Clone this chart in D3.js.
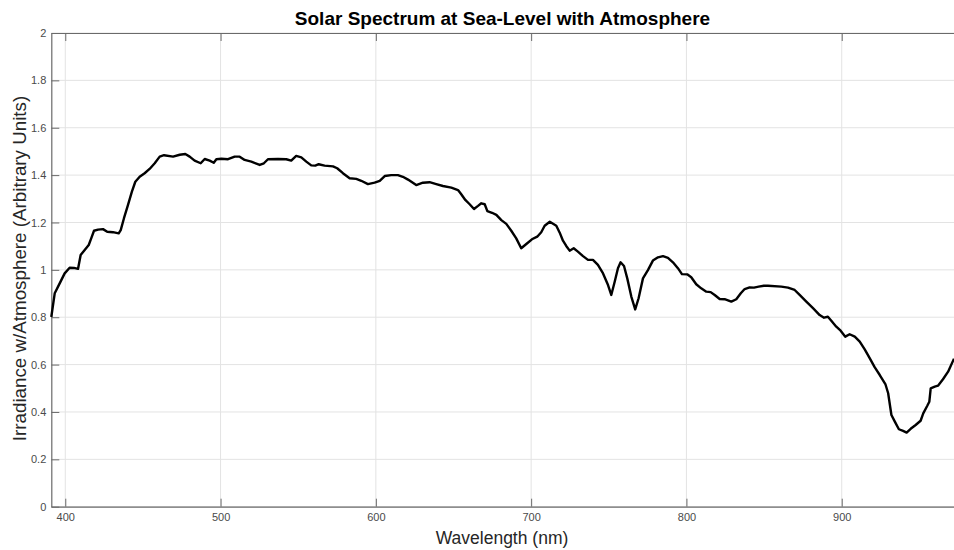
<!DOCTYPE html>
<html>
<head>
<meta charset="utf-8">
<script src="https://cdn.jsdelivr.net/npm/d3@7"></script>
<style>
  body { margin: 0; background: #fff; }
  svg { display: block; font-family: Arial, "Liberation Sans", Helvetica, sans-serif; }
</style>
</head>
<body>
<svg id="chart" width="954" height="550"></svg>
<script>
const wavelength = [391, 393.2, 396.4, 399.6, 402.8, 405.6, 408.2, 409.9, 412.5, 415.1, 416.7, 418.5, 421.1, 424.3, 427, 430.7, 434.4, 435.7, 437.8, 440.4, 442.9, 445.1, 447.9, 451.1, 454.3, 457.6, 460.8, 463.6, 469.4, 473.7, 477.3, 480.1, 483.3, 487.2, 489.8, 493, 495.6, 497.3, 500.5, 504.8,
  509.1, 512.3, 515.5, 519.8, 525.2, 527.9, 530.5, 537, 542.3, 545.5, 548.7, 552, 555.2, 558.4, 561, 563.2, 567, 572.4, 575.1, 578.8, 583.1, 587.4, 590.6, 594.9, 599.2, 602.5, 605.7, 609.9, 614.2, 617.4, 620.7,
  626, 630.3, 634.6, 638.9, 643.2, 648.6, 652.9, 655, 657.6, 660.4, 663.2, 665.8, 667.9, 670.1, 671.8, 674.8, 677.6, 680.8, 684, 687.2, 690.4, 693.6, 696.9, 700.5, 703.9, 706.5, 708.7, 712, 716.2, 718.4, 720.5, 722.6, 724.8, 727.4, 730.1, 733.4, 736.6,
  739.8, 743, 746.3, 749.5, 751.6, 753.8, 755.9, 757.6, 759.8, 761.9, 764.5, 767, 769.2, 772, 775.2, 778.4, 781.7, 784.9, 788.1, 791.3, 794.5, 797.1, 800.5, 803.1, 806.3, 809.5, 812.8, 815.6, 818.2, 821.4, 824.6, 828.9, 832.1, 835, 837.5, 840.7, 843.5, 846.5, 849.9, 852.5,
  861.1, 865.4, 869.7, 872.9, 877.2, 881.5, 885.8, 888.6, 891.1, 893.3, 896.5, 899.3, 902.3, 905.1, 908.4, 911.6, 914.8, 918, 921.2, 924.5, 928.1, 929.9, 932, 934.2, 936.8, 939.5, 941.8, 944.4, 947.6, 950.8, 952.5, 955.1, 956.4, 957.3, 959.9, 962, 965.2, 968.5, 972.3];

const irradiance = [0.801, 0.901, 0.943, 0.985, 1.009, 1.008, 1.004, 1.063, 1.084, 1.105, 1.133, 1.165, 1.170, 1.172, 1.161, 1.159, 1.154, 1.168, 1.218, 1.274, 1.330, 1.372, 1.393, 1.408, 1.426, 1.450, 1.478, 1.484, 1.478, 1.486, 1.489, 1.478, 1.461, 1.450, 1.468, 1.461, 1.452, 1.467, 1.469, 1.467,
  1.478, 1.478, 1.464, 1.457, 1.443, 1.450, 1.467, 1.468, 1.467, 1.461, 1.481, 1.475, 1.457, 1.441, 1.440, 1.446, 1.440, 1.437, 1.429, 1.408, 1.387, 1.384, 1.376, 1.362, 1.368, 1.376, 1.396, 1.400, 1.400, 1.393, 1.381,
  1.358, 1.368, 1.370, 1.362, 1.354, 1.347, 1.337, 1.319, 1.295, 1.277, 1.257, 1.270, 1.281, 1.277, 1.248, 1.241, 1.232, 1.210, 1.194, 1.165, 1.133, 1.091, 1.109, 1.129, 1.140, 1.159, 1.186, 1.203, 1.186, 1.157, 1.123, 1.101, 1.081, 1.091, 1.077, 1.058, 1.042,
  1.042, 1.021, 0.985, 0.936, 0.894, 0.950, 1.007, 1.032, 1.016, 0.964, 0.887, 0.833, 0.880, 0.964, 0.999, 1.039, 1.053, 1.058, 1.051, 1.032, 1.007, 0.982, 0.981, 0.969, 0.939, 0.922, 0.908, 0.906, 0.894, 0.877, 0.876, 0.866, 0.876, 0.901, 0.919, 0.926, 0.925, 0.929, 0.933, 0.933,
  0.929, 0.925, 0.915, 0.894, 0.866, 0.838, 0.809, 0.798, 0.802, 0.785, 0.760, 0.743, 0.718, 0.728, 0.718, 0.697, 0.664, 0.627, 0.589, 0.556, 0.518, 0.479, 0.387, 0.359, 0.327, 0.320, 0.313, 0.329, 0.345, 0.363, 0.394, 0.426, 0.443, 0.500, 0.507, 0.511, 0.538, 0.570, 0.625];

const xTicks = [400, 500, 600, 700, 800, 900];
const yTicks = [0, 0.2, 0.4, 0.6, 0.8, 1, 1.2, 1.4, 1.6, 1.8, 2];

const titleText = 'Solar Spectrum at Sea-Level with Atmosphere';
const xLabel = 'Wavelength (nm)';
const yLabel = 'Irradiance w/Atmosphere (Arbitrary Units)';

const plotLeft = 51.3, plotRight = 954, plotTop = 33, plotBottom = 506.7;
const svg = d3.select('#chart');

const x = d3.scaleLinear().domain([391, 972.3]).range([plotLeft, plotRight]);
const y = d3.scaleLinear().domain([0, 2]).range([plotBottom, plotTop]);

// grid
const grid = svg.append('g');
grid.selectAll('.vg').data(xTicks).enter().append('line')
    .attr('x1', d => x(d)).attr('x2', d => x(d))
    .attr('y1', plotTop).attr('y2', plotBottom)
    .attr('stroke', '#e3e3e3').attr('stroke-width', 1);
grid.selectAll('.hg').data(yTicks).enter().append('line')
    .attr('x1', plotLeft).attr('x2', plotRight)
    .attr('y1', d => y(d)).attr('y2', d => y(d))
    .attr('stroke', '#e3e3e3').attr('stroke-width', 1);

// axes (MATLAB style, inward ticks)
const axisColor = '#6a6a6a';
const xAxis = svg.append('g')
    .attr('transform', `translate(0,${plotBottom})`)
    .call(d3.axisBottom(x).tickValues(xTicks).tickSizeInner(-8).tickSizeOuter(0).tickPadding(7).tickFormat(d3.format('d')));
const xTop = svg.append('g')
    .attr('transform', `translate(0,${plotTop})`)
    .call(d3.axisTop(x).tickValues(xTicks).tickSizeInner(-8).tickSizeOuter(0).tickFormat(''));
const yAxis = svg.append('g')
    .attr('transform', `translate(${plotLeft},0)`)
    .call(d3.axisLeft(y).tickValues(yTicks).tickSizeInner(-8).tickSizeOuter(0).tickPadding(5).tickFormat(d => d3.format('~g')(d)));

[xAxis, xTop, yAxis].forEach(a => {
    a.select('.domain').attr('stroke', axisColor).attr('stroke-width', 1.2);
    a.selectAll('.tick line').attr('stroke', axisColor);
    a.selectAll('.tick text').attr('fill', '#4a4a4a').style('font-size', '11px')
        .style('font-family', 'Arial, "Liberation Sans", Helvetica, sans-serif');
});

// spectrum line
const line = d3.line()
    .x((d, i) => x(wavelength[i]))
    .y(d => y(d));

svg.append('path')
    .datum(irradiance)
    .attr('d', line)
    .attr('fill', 'none')
    .attr('stroke', '#000')
    .attr('stroke-width', 2.4)
    .attr('stroke-linejoin', 'round');

// labels
svg.append('text')
    .attr('x', 502.5).attr('y', 25)
    .attr('text-anchor', 'middle')
    .style('font-size', '19px').style('font-weight', 'bold')
    .attr('fill', '#000')
    .text(titleText);

svg.append('text')
    .attr('x', 502).attr('y', 544)
    .attr('text-anchor', 'middle')
    .style('font-size', '17.5px')
    .attr('fill', '#262626')
    .text(xLabel);

svg.append('text')
    .attr('transform', 'translate(26,268.5) rotate(-90)')
    .attr('text-anchor', 'middle')
    .style('font-size', '18.8px')
    .attr('fill', '#262626')
    .text(yLabel);
</script>
</body>
</html>
